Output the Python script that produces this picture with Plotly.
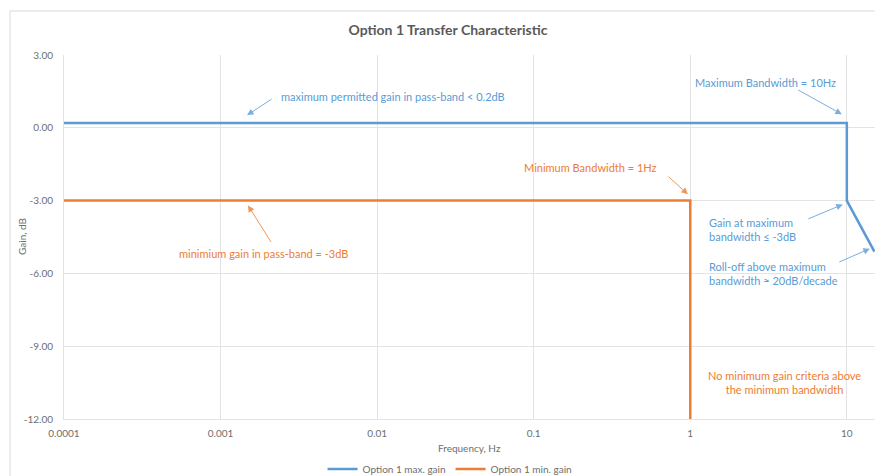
import plotly.graph_objects as go

# Frequency response limits
max_freq = [0.0001, 10, 10, 15]
max_gain = [0.2, 0.2, -3.0, -5.1]
min_freq = [0.0001, 1, 1]
min_gain = [-3.0, -3.0, -12.0]

x_tick_vals = [0.0001, 0.001, 0.01, 0.1, 1, 10]
x_tick_text = ["0.0001", "0.001", "0.01", "0.1", "1", "10"]
y_tick_vals = [3, 0, -3, -6, -9, -12]
y_tick_text = ["3.00", "0.00", "-3.00", "-6.00", "-9.00", "-12.00"]

BLUE = "#5b9bd5"
ORANGE = "#ed7d31"
GRID = "#e3e3e3"
TEXT = "#6e6e6e"
FONT = "Lato"

W, H = 875, 476
M_L, M_R, M_T, M_B = 64, 0, 55, 57
PW, PH = W - M_L - M_R, H - M_T - M_B


def px_to_paper_x(px):
    return (px - M_L) / PW


def px_to_paper_y(py):
    return (H - M_B - py) / PH


fig = go.Figure()
fig.add_trace(go.Scatter(x=max_freq, y=max_gain, mode="lines", name="Option 1 max. gain",
                         line=dict(color=BLUE, width=2.5)))
fig.add_trace(go.Scatter(x=min_freq, y=min_gain, mode="lines", name="Option 1 min. gain",
                         line=dict(color=ORANGE, width=2.5)))

# Text labels (x in log10 units, y in dB)
labels = [
    ("maximum permitted gain in pass-band < 0.2dB", -2.627, 1.31, "left", BLUE),
    ("Maximum Bandwidth = 10Hz", 0.017, 1.88, "left", BLUE),
    ("Minimum Bandwidth = 1Hz", -1.075, -1.63, "left", ORANGE),
    ("minimium gain in pass-band = -3dB", -3.278, -5.18, "left", ORANGE),
    ("Gain at maximum<br>bandwidth \u2264 -3dB", 0.106, -4.21, "left", BLUE),
    ("Roll-off above maximum<br>bandwidth \u2248 20dB/decade", 0.106, -6.01, "left", BLUE),
    ("No minimum gain criteria above<br>the minimum bandwidth", 0.604, -10.51, "center", ORANGE),
]
for text, lx, ly, anchor, col in labels:
    fig.add_annotation(x=lx, y=ly, xref="x", yref="y", text=text, showarrow=False,
                       xanchor=anchor, yanchor="middle", align=anchor,
                       font=dict(family=FONT, size=11, color=col))

# Pointer arrows: tip in data units, tail offset in pixels
arrows = [
    (-2.831, 0.52, 26, -17, BLUE),
    (0.968, 0.56, -45, -25, BLUE),
    (-0.015, -2.74, -21, -19, ORANGE),
    (-2.825, -3.20, 24, 38, ORANGE),
    (0.974, -3.16, -36, 15, BLUE),
    (1.147, -4.98, -32, 14, BLUE),
]
for tx, ty, ax, ay, col in arrows:
    fig.add_annotation(x=tx, y=ty, xref="x", yref="y", text="", showarrow=True,
                       ax=ax, ay=ay, arrowhead=2, arrowsize=1.3, arrowwidth=1,
                       arrowcolor=col, opacity=0.8, standoff=0, startstandoff=0)

# Axis titles
fig.add_annotation(x=0.5, y=px_to_paper_y(448), xref="paper", yref="paper", text="Frequency, Hz",
                   showarrow=False, xanchor="center", yanchor="middle",
                   font=dict(family=FONT, size=10, color=TEXT))
fig.add_annotation(x=px_to_paper_x(22), y=0.5, xref="paper", yref="paper", text="Gain, dB",
                   textangle=-90, showarrow=False, xanchor="center", yanchor="middle",
                   font=dict(family=FONT, size=10, color=TEXT))

# Chart frame
fig.add_shape(type="rect", xref="paper", yref="paper",
              x0=px_to_paper_x(10), x1=px_to_paper_x(890),
              y0=px_to_paper_y(500), y1=px_to_paper_y(11),
              line=dict(color="#d9d9d9", width=1), fillcolor="rgba(0,0,0,0)", layer="below")

fig.update_layout(
    width=W, height=H,
    margin=dict(l=M_L, r=M_R, t=M_T, b=M_B, autoexpand=False),
    paper_bgcolor="white", plot_bgcolor="white",
    font=dict(family=FONT, color=TEXT),
    title=dict(text="<b>Option 1 Transfer Characteristic</b>", x=0.512, xanchor="center",
               y=1 - 30 / H, yanchor="middle", yref="container",
               font=dict(family=FONT, size=14, color="#595959")),
    showlegend=True,
    legend=dict(orientation="h", x=0.476, xanchor="center", y=1 - 469 / H, yanchor="middle",
                yref="container", font=dict(family=FONT, size=10, color=TEXT),
                bgcolor="rgba(0,0,0,0)"),
    xaxis=dict(type="log", range=[-4, 1.18], tickvals=x_tick_vals, ticktext=x_tick_text,
               showgrid=True, gridcolor=GRID, gridwidth=1, showline=True, linecolor=GRID,
               zeroline=False, ticks="", ticklabelstandoff=5, automargin=False,
               tickfont=dict(family=FONT, size=10, color=TEXT)),
    yaxis=dict(range=[-12, 3], tickvals=y_tick_vals, ticktext=y_tick_text,
               showgrid=True, gridcolor=GRID, gridwidth=1, showline=True, linecolor=GRID,
               zeroline=False, ticks="", ticklabelstandoff=8, automargin=False,
               tickfont=dict(family=FONT, size=10, color=TEXT)),
)

fig.write_html("out.html")
